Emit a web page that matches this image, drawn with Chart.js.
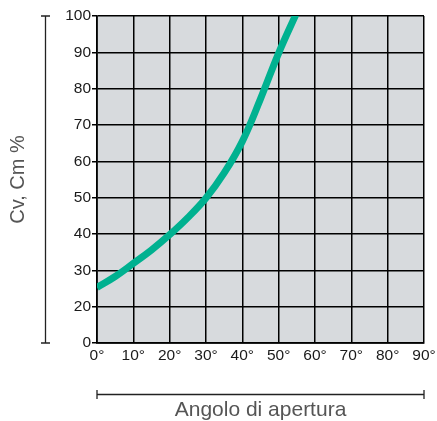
<!DOCTYPE html>
<html>
<head>
<meta charset="utf-8">
<script src="https://cdn.jsdelivr.net/npm/chart.js@4.4.1/dist/chart.umd.min.js"></script>
<style>
  html, body { margin: 0; padding: 0; background: #fff; }
  canvas { display: block; }
</style>
</head>
<body>
<canvas id="chartApertura" width="437" height="421"></canvas>
<script>
// --- Dati ---
const angoli = [0, 5, 10, 15, 20, 25, 30, 35, 40, 45, 50, 55];
const valoriCv = [25.3, 28.3, 31.9, 35.6, 39.8, 44.5, 49.9, 56.8, 65.5, 77.2, 89.8, 101];
const ticksX = [0, 10, 20, 30, 40, 50, 60, 70, 80, 90];
const ticksY = [10, 20, 30, 40, 50, 60, 70, 80, 90, 100];
// etichetta "0" sulla prima riga, come nell'originale (manca il 10)
const etichetteY = ['0', '20', '30', '40', '50', '60', '70', '80', '90', '100'];

const titoloY = 'Cv, Cm %';
const titoloX = 'Angolo di apertura';

const FONT = '"Liberation Sans", Arial, Helvetica, sans-serif';

// sfondo grigio dell'area + parentesi e titoli degli assi
const decorazioni = {
    id: 'decorazioni',
    beforeDraw(chart) {
        const { ctx, chartArea: a } = chart;
        ctx.save();
        ctx.fillStyle = '#d7dadd';
        ctx.fillRect(a.left, a.top, a.right - a.left, a.bottom - a.top);
        ctx.restore();
    },
    afterDraw(chart) {
        const { ctx, chartArea: a } = chart;
        ctx.save();
        ctx.strokeStyle = '#222';
        ctx.lineWidth = 1.3;

        // parentesi verticale (asse Y)
        const bx = 45.5;
        ctx.beginPath();
        ctx.moveTo(bx, a.top); ctx.lineTo(bx, a.bottom);
        ctx.moveTo(bx - 4.5, a.top); ctx.lineTo(bx + 4.5, a.top);
        ctx.moveTo(bx - 4.5, a.bottom); ctx.lineTo(bx + 4.5, a.bottom);
        ctx.stroke();

        // parentesi orizzontale (asse X)
        const by = 394.5;
        ctx.beginPath();
        ctx.moveTo(a.left, by); ctx.lineTo(a.right, by);
        ctx.moveTo(a.left, by - 4.5); ctx.lineTo(a.left, by + 4.5);
        ctx.moveTo(a.right, by - 4.5); ctx.lineTo(a.right, by + 4.5);
        ctx.stroke();

        ctx.fillStyle = '#555';
        ctx.font = '21px ' + FONT;
        ctx.textAlign = 'center';
        ctx.textBaseline = 'alphabetic';
        ctx.fillText(titoloX, (a.left + a.right) / 2, 416);

        ctx.translate(24, (a.top + a.bottom) / 2);
        ctx.rotate(-Math.PI / 2);
        ctx.font = '20px ' + FONT;
        ctx.fillText(titoloY, 0, 0);
        ctx.restore();
    }
};

const ctx = document.getElementById('chartApertura');

new Chart(ctx, {
    type: 'line',
    data: {
        datasets: [{
            data: angoli.map((x, i) => ({ x: x, y: valoriCv[i] })),
            borderColor: '#00b190',
            borderWidth: 7,
            pointRadius: 0,
            fill: false,
            tension: 0.4,
            borderCapStyle: 'butt'
        }]
    },
    options: {
        responsive: false,
        animation: false,
        devicePixelRatio: 1,
        clip: true,
        layout: { padding: { top: 16, right: 13, left: 0, bottom: 0 } },
        plugins: {
            legend: { display: false },
            tooltip: { enabled: false }
        },
        scales: {
            x: {
                type: 'linear',
                min: 0,
                max: 90,
                afterBuildTicks: (s) => { s.ticks = ticksX.map(v => ({ value: v })); },
                afterFit: (s) => {
                    s.height = 78;
                    // l'ultima etichetta può uscire dal bordo, come nell'originale
                    s.paddingLeft = 0;
                    s.paddingRight = 0;
                },
                ticks: {
                    color: '#1a1a1a',
                    font: { family: FONT, size: 15.5 },
                    padding: 3,
                    maxRotation: 0,
                    autoSkip: false,
                    callback: (v) => v + '°'
                },
                grid: { color: '#000', lineWidth: 1.5, drawTicks: false },
                border: { color: '#000', width: 1.7 }
            },
            y: {
                type: 'linear',
                min: 10,
                max: 100,
                afterBuildTicks: (s) => { s.ticks = ticksY.map(v => ({ value: v })); },
                afterFit: (s) => { s.width = 97; },
                ticks: {
                    color: '#1a1a1a',
                    font: { family: FONT, size: 15.5 },
                    padding: 1,
                    autoSkip: false,
                    callback: (v) => etichetteY[ticksY.indexOf(v)]
                },
                grid: { color: '#000', lineWidth: 1.5, tickLength: 5 },
                border: { color: '#000', width: 1.7 }
            }
        }
    },
    plugins: [decorazioni]
});
</script>
</body>
</html>
